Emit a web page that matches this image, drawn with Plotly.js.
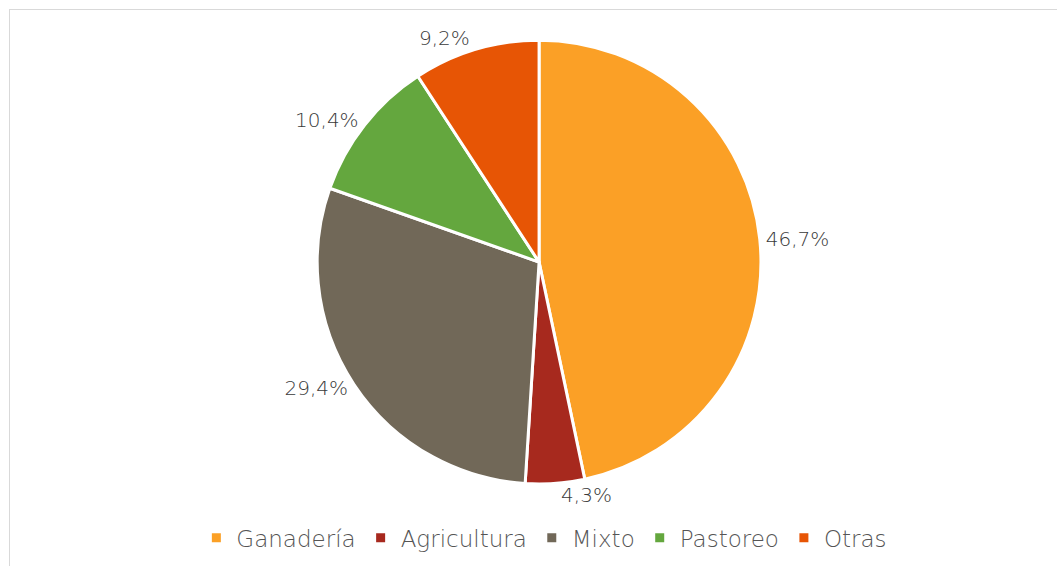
<!DOCTYPE html>
<html>
<head>
<meta charset="utf-8">
<script src="https://cdn.plot.ly/plotly-3.0.1.min.js"></script>
<style>
  html, body { margin: 0; padding: 0; background: #ffffff; overflow: hidden; }
  #frame { position: absolute; left: 9px; top: 9px; width: 1200px; height: 700px; border: 1px solid #d9d9d9; box-sizing: border-box; }
  #chart { position: absolute; left: 0; top: 0; width: 1057px; height: 566px; }
</style>
</head>
<body>
<div id="frame"></div>
<div id="chart"></div>
<script>
const categories = ["Ganadería", "Agricultura", "Mixto", "Pastoreo", "Otras"];
const shares = [46.7, 4.3, 29.4, 10.4, 9.2];
const sliceColors = ["#FBA026", "#A7291E", "#716858", "#64A73E", "#E75505"];

const labelFont = { family: "'DejaVu Sans', sans-serif", size: 20, color: "#3a3a3a", weight: 200 };

const trace = {
  type: "pie",
  labels: categories,
  values: shares,
  sort: false,
  direction: "clockwise",
  rotation: 0,
  marker: { colors: sliceColors, line: { color: "#ffffff", width: 3 } },
  textposition: "outside",
  texttemplate: "%{value:.1f}%",
  textfont: labelFont,
  outsidetextfont: labelFont,
  hoverinfo: "label+percent",
  domain: { x: [0.02, 1], y: [0.145, 0.929] },
  automargin: false
};

const layout = {
  width: 1057,
  height: 566,
  paper_bgcolor: "rgba(0,0,0,0)",
  plot_bgcolor: "rgba(0,0,0,0)",
  separators: ",.",
  margin: { l: 0, r: 0, t: 0, b: 0 },
  showlegend: true,
  legend: {
    orientation: "h",
    x: 0.515, xanchor: "center",
    y: 0.012, yanchor: "bottom",
    font: { family: "'DejaVu Sans', sans-serif", size: 23, color: "#555555", weight: 200 },
    itemwidth: 30,
    traceorder: "normal"
  }
};

Plotly.newPlot("chart", [trace], layout, { displayModeBar: false, staticPlot: true });
</script>
</body>
</html>
